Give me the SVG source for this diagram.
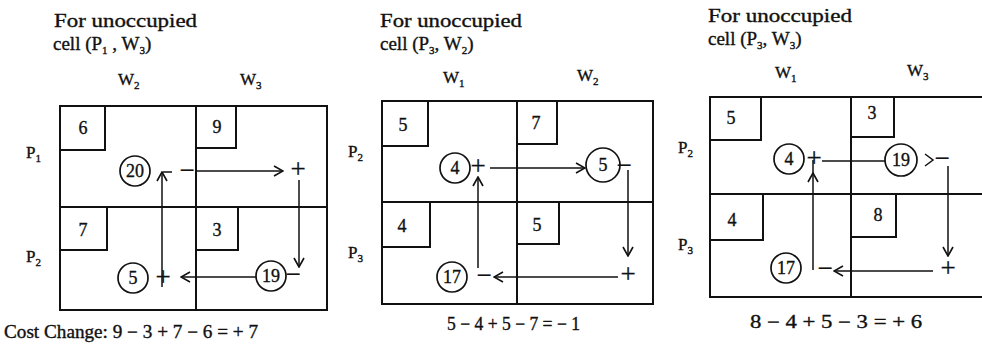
<svg xmlns="http://www.w3.org/2000/svg" width="982" height="345" viewBox="0 0 982 345">
<style>
text{font-family:"Liberation Serif","Times New Roman",serif;fill:#111;stroke:#111;stroke-width:0.35}
.hd{font-size:19px}
.lb{font-size:17px}
.sb{font-size:11px}
.num{font-size:18px;text-anchor:middle}
.sg{font-size:27px;text-anchor:middle;stroke-width:0.3}
.fm{font-size:18px}
.grid{fill:none;stroke:#111;stroke-width:2}
.cir{fill:none;stroke:#111;stroke-width:1.7}
.con{fill:none;stroke:#111;stroke-width:1.5}
</style>
<defs>
<marker id="ah" viewBox="0 0 12 12" refX="11" refY="6" markerWidth="12" markerHeight="12" markerUnits="userSpaceOnUse" orient="auto">
<path d="M2,1 L11,6 L2,11" fill="none" stroke="#111" stroke-width="1.6"/>
</marker>
</defs>
<rect width="982" height="345" fill="#fff"/>

<!-- Panel 1 -->
<g id="panel1-title">
<text class="hd" x="54" y="27" textLength="143" lengthAdjust="spacingAndGlyphs">For unoccupied</text>
<text class="hd" x="53" y="50">cell (P<tspan class="sb" dy="4">1</tspan><tspan dy="-4"> , W</tspan><tspan class="sb" dy="4">3</tspan><tspan dy="-4">)</tspan></text>
</g>
<g id="panel1-labels">
<text class="lb" x="118" y="85">W<tspan class="sb" dy="4">2</tspan></text>
<text class="lb" x="240" y="85">W<tspan class="sb" dy="4">3</tspan></text>
<text class="lb" x="26" y="158">P<tspan class="sb" dy="4">1</tspan></text>
<text class="lb" x="26" y="262">P<tspan class="sb" dy="4">2</tspan></text>
</g>
<g id="panel1-grid">
<rect class="grid" x="60" y="106" width="267" height="204"/>
<line class="grid" x1="196" y1="106" x2="196" y2="310"/>
<line class="grid" x1="60" y1="207" x2="327" y2="207"/>
</g>
<g id="p1-c11"><path class="grid" d="M60,150 H105 V106"/><text class="num" x="83" y="134">6</text></g>
<g id="p1-c12"><path class="grid" d="M196,148 H236 V106"/><text class="num" x="217" y="133">9</text></g>
<g id="p1-c21"><path class="grid" d="M60,250 H107 V207"/><text class="num" x="83" y="236">7</text></g>
<g id="p1-c22"><path class="grid" d="M196,250 H238 V207"/><text class="num" x="217" y="236">3</text></g>
<g id="p1-n20"><circle class="cir" cx="135" cy="171" r="15"/><text class="num" x="135" y="177">20</text></g>
<g id="p1-n5"><circle class="cir" cx="133" cy="278" r="15"/><text class="num" x="133" y="284">5</text></g>
<g id="p1-n19"><circle class="cir" cx="271" cy="276" r="15"/><text class="num" x="271" y="282">19</text></g>
<text class="fm" x="4" y="338" textLength="254" lengthAdjust="spacingAndGlyphs">Cost Change: 9 − 3 + 7 − 6 = + 7</text>

<!-- Panel 2 -->
<g id="panel2-title">
<text class="hd" x="380" y="27" textLength="142" lengthAdjust="spacingAndGlyphs">For unoccupied</text>
<text class="hd" x="380" y="50">cell (P<tspan class="sb" dy="4">3</tspan><tspan dy="-4">, W</tspan><tspan class="sb" dy="4">2</tspan><tspan dy="-4">)</tspan></text>
</g>
<g id="panel2-labels">
<text class="lb" x="443" y="83">W<tspan class="sb" dy="4">1</tspan></text>
<text class="lb" x="577" y="81">W<tspan class="sb" dy="4">2</tspan></text>
<text class="lb" x="348" y="157">P<tspan class="sb" dy="4">2</tspan></text>
<text class="lb" x="348" y="258">P<tspan class="sb" dy="4">3</tspan></text>
</g>
<g id="panel2-grid">
<rect class="grid" x="382" y="101" width="271" height="203"/>
<line class="grid" x1="517" y1="101" x2="517" y2="304"/>
<line class="grid" x1="382" y1="202" x2="653" y2="202"/>
</g>
<g id="p2-c11"><path class="grid" d="M382,146 H428 V101"/><text class="num" x="403" y="131">5</text></g>
<g id="p2-c12"><path class="grid" d="M517,144 H557 V101"/><text class="num" x="536" y="129">7</text></g>
<g id="p2-c21"><path class="grid" d="M382,247 H430 V202"/><text class="num" x="402" y="232">4</text></g>
<g id="p2-c22"><path class="grid" d="M517,244 H559 V202"/><text class="num" x="537" y="231">5</text></g>
<g id="p2-n4"><circle class="cir" cx="455" cy="168" r="15"/><text class="num" x="455" y="174">4</text></g>
<g id="p2-n5"><circle class="cir" cx="603" cy="165" r="17"/><text class="num" x="603" y="171">5</text></g>
<g id="p2-n17"><circle class="cir" cx="452" cy="277" r="15"/><text class="num" x="452" y="283">17</text></g>
<text class="fm" x="447" y="330" textLength="133" lengthAdjust="spacingAndGlyphs">5 − 4 + 5 − 7 = − 1</text>

<!-- Panel 3 -->
<g id="panel3-title">
<text class="hd" x="708" y="22" textLength="144" lengthAdjust="spacingAndGlyphs">For unoccupied</text>
<text class="hd" x="708" y="45">cell (P<tspan class="sb" dy="4">3</tspan><tspan dy="-4">, W</tspan><tspan class="sb" dy="4">3</tspan><tspan dy="-4">)</tspan></text>
</g>
<g id="panel3-labels">
<text class="lb" x="775" y="78">W<tspan class="sb" dy="4">1</tspan></text>
<text class="lb" x="907" y="76">W<tspan class="sb" dy="4">3</tspan></text>
<text class="lb" x="678" y="153">P<tspan class="sb" dy="4">2</tspan></text>
<text class="lb" x="678" y="250">P<tspan class="sb" dy="4">3</tspan></text>
</g>
<g id="panel3-grid">
<rect class="grid" x="710" y="97" width="290" height="200"/>
<line class="grid" x1="851" y1="97" x2="851" y2="297"/>
<line class="grid" x1="710" y1="194" x2="990" y2="194"/>
</g>
<g id="p3-c11"><path class="grid" d="M710,140 H761 V97"/><text class="num" x="731" y="124">5</text></g>
<g id="p3-c12"><path class="grid" d="M851,137 H894 V97"/><text class="num" x="872" y="119">3</text></g>
<g id="p3-c21"><path class="grid" d="M710,240 H763 V194"/><text class="num" x="732" y="226">4</text></g>
<g id="p3-c22"><path class="grid" d="M851,237 H896 V194"/><text class="num" x="878" y="221">8</text></g>
<g id="p3-n4"><circle class="cir" cx="789" cy="159" r="15"/><text class="num" x="789" y="165">4</text></g>
<g id="p3-n19"><circle class="cir" cx="901" cy="160" r="16"/><text class="num" x="901" y="166">19</text></g>
<g id="p3-n17"><circle class="cir" cx="786" cy="268" r="15"/><text class="num" x="786" y="274">17</text></g>
<text class="fm" x="750" y="328" textLength="172" lengthAdjust="spacingAndGlyphs">8 − 4 + 5 − 3 = + 6</text>

<!-- Connectors -->
<g id="connectors">
<!-- panel 1 -->
<line class="con" x1="162" y1="287" x2="162" y2="172" marker-end="url(#ah)"/>
<line class="con" x1="163" y1="172" x2="172" y2="172"/>
<line class="con" x1="196" y1="171" x2="283" y2="171" marker-end="url(#ah)"/>
<line class="con" x1="299" y1="180" x2="299" y2="267" marker-end="url(#ah)"/>
<line class="con" x1="256" y1="277" x2="181" y2="277" marker-end="url(#ah)"/>
<text class="sg" x="187" y="179">−</text>
<text class="sg" x="298" y="178">+</text>
<text class="sg" x="293" y="283">−</text>
<text class="sg" x="163" y="286">+</text>
<!-- panel 2 -->
<line class="con" x1="478" y1="268" x2="478" y2="177" marker-end="url(#ah)"/>
<line class="con" x1="490" y1="168" x2="585" y2="168" marker-end="url(#ah)"/>
<line class="con" x1="628" y1="170" x2="628" y2="256" marker-end="url(#ah)"/>
<line class="con" x1="618" y1="277" x2="494" y2="277" marker-end="url(#ah)"/>
<text class="sg" x="478" y="175">+</text>
<text class="sg" x="624" y="174">−</text>
<text class="sg" x="628" y="283">+</text>
<text class="sg" x="484" y="284">−</text>
<!-- panel 3 -->
<line class="con" x1="813" y1="270" x2="813" y2="173" marker-end="url(#ah)"/>
<line class="con" x1="813" y1="173" x2="813" y2="160"/>
<line class="con" x1="822" y1="161" x2="885" y2="161"/>
<path class="con" d="M925,154 L933,160 L925,166"/>
<line class="con" x1="948" y1="166" x2="948" y2="256" marker-end="url(#ah)"/>
<line class="con" x1="933" y1="271" x2="834" y2="271" marker-end="url(#ah)"/>
<text class="sg" x="814" y="167">+</text>
<text class="sg" x="942" y="167">−</text>
<text class="sg" x="948" y="277">+</text>
<text class="sg" x="825" y="277">−</text>
</g>
</svg>
